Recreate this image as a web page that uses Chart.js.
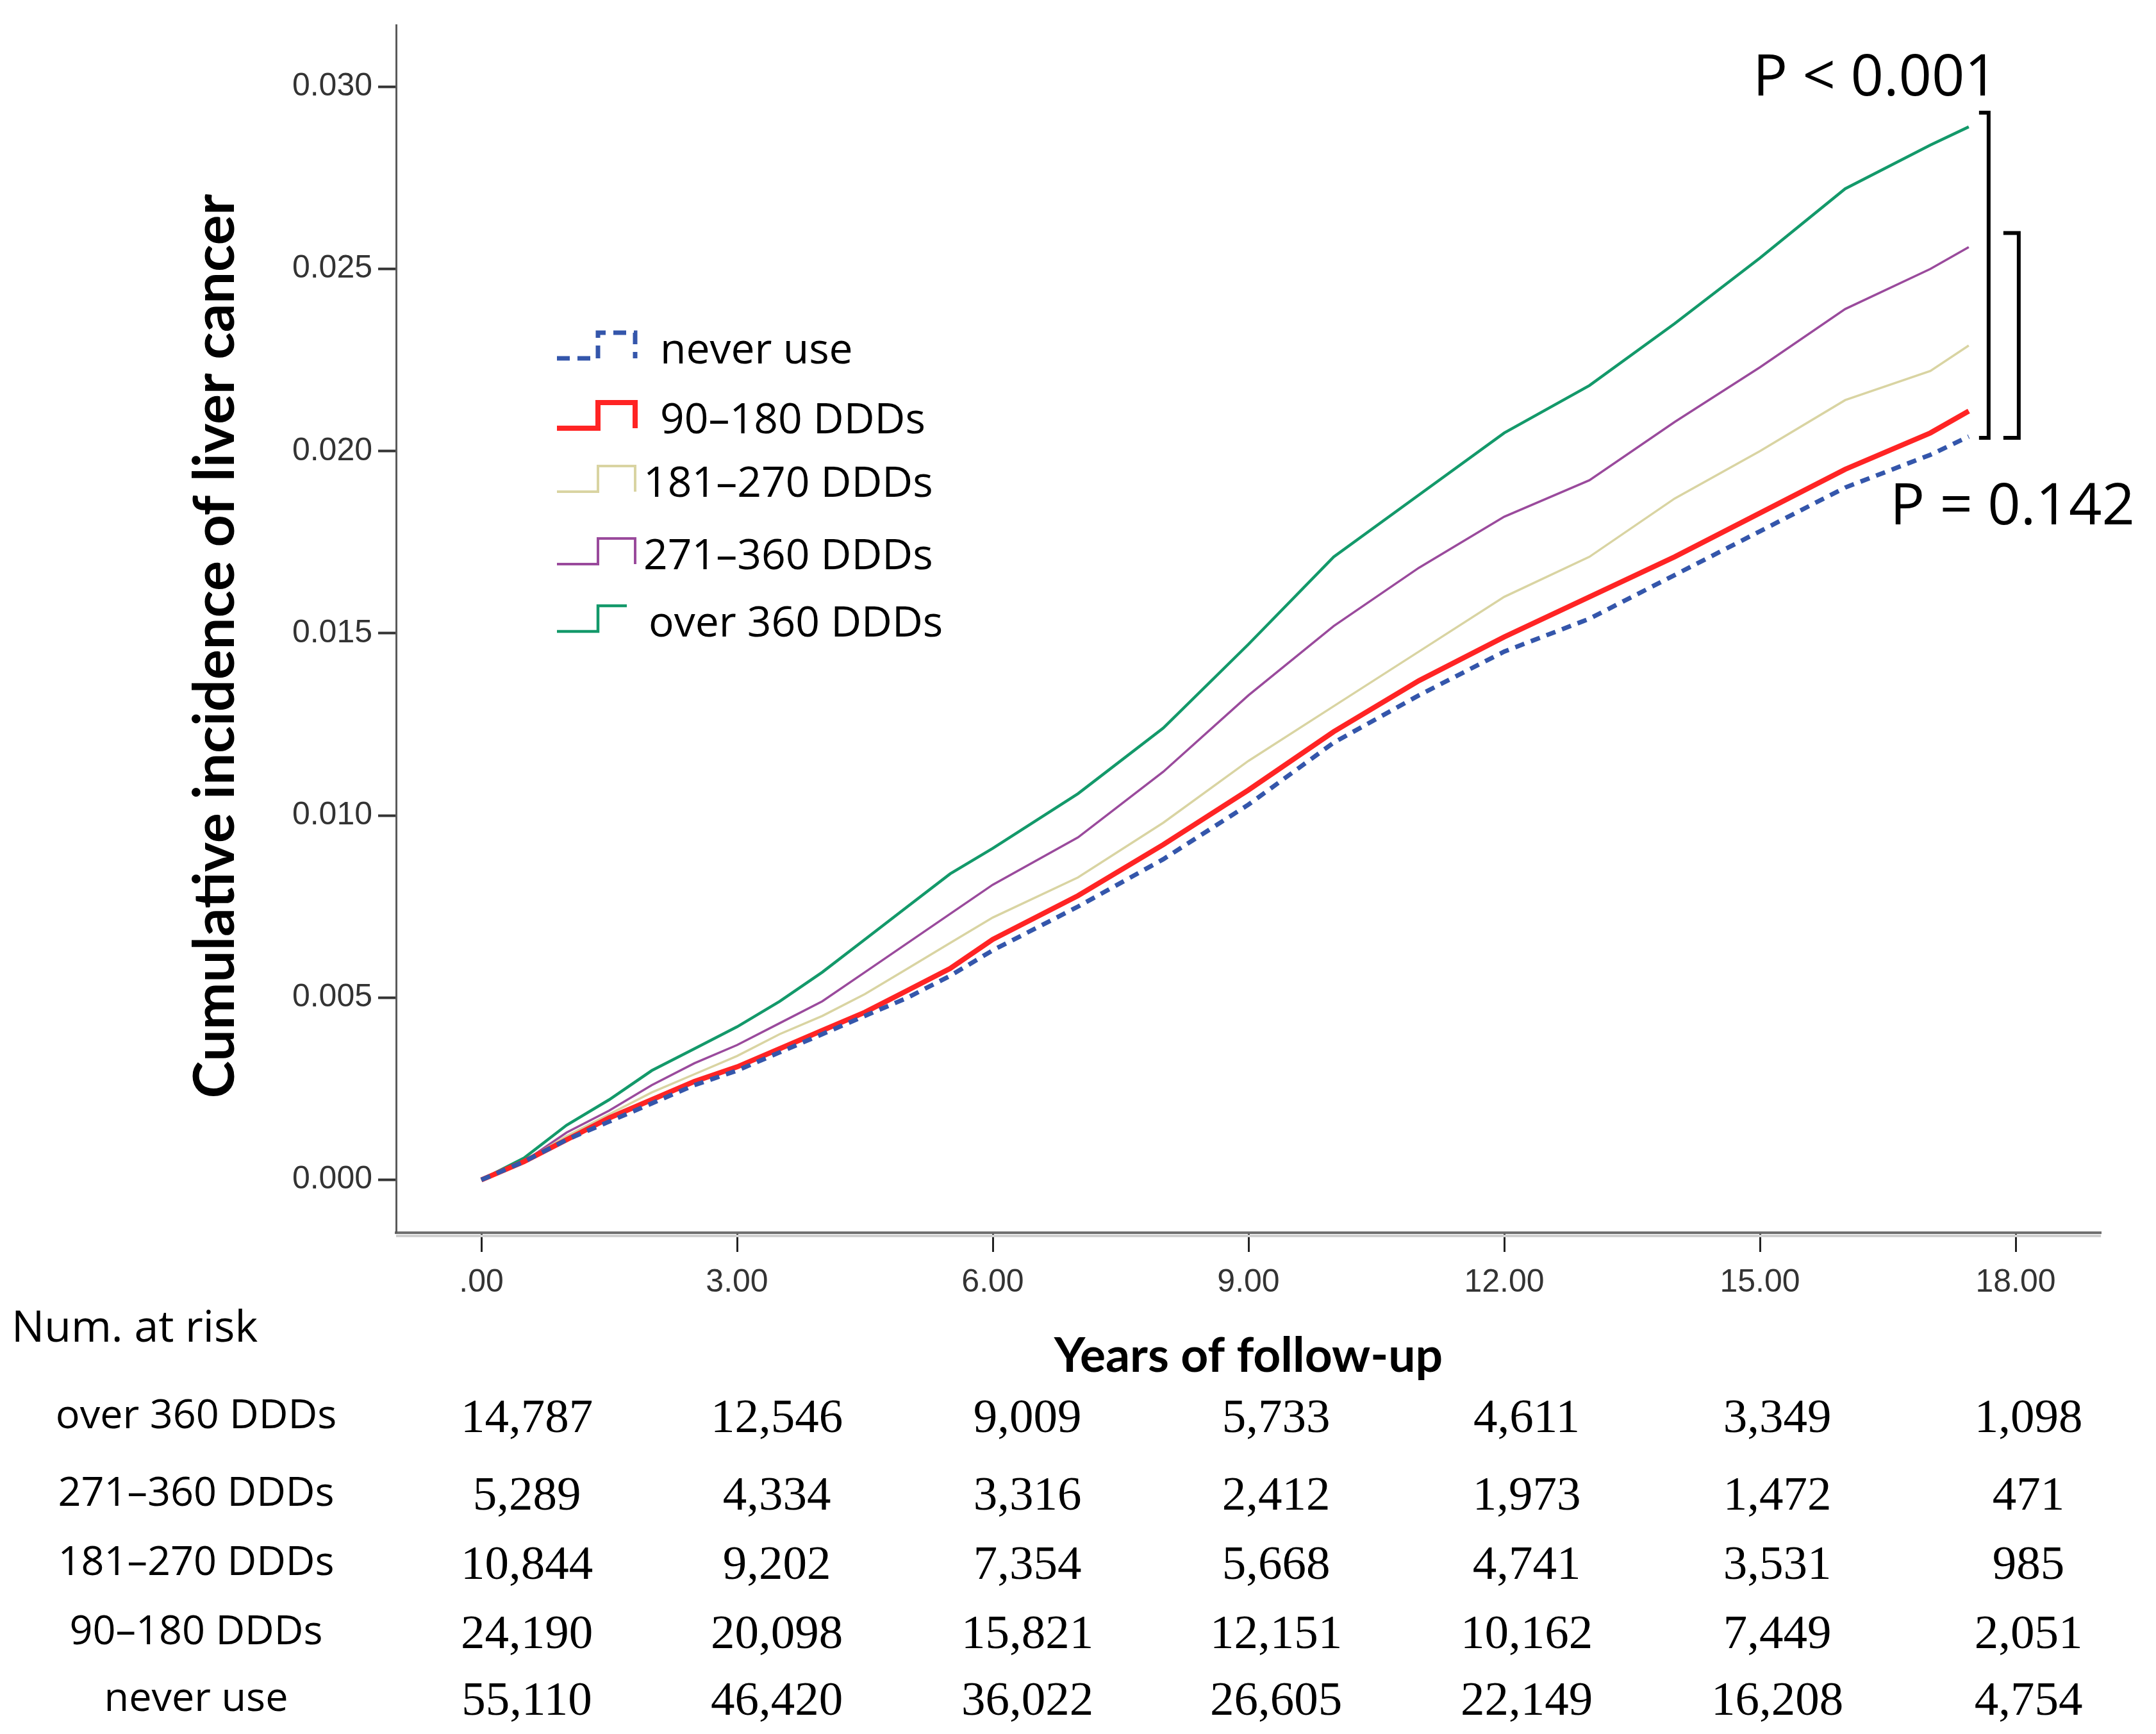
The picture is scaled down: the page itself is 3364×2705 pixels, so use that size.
<!DOCTYPE html>
<html>
<head>
<meta charset="utf-8">
<script src="https://cdn.jsdelivr.net/npm/chart.js@4.4.0/dist/chart.umd.min.js"></script>
<style>
  html, body { margin: 0; padding: 0; background: #fff; }
  canvas { display: block; }
</style>
</head>
<body>
<canvas id="kmChart" width="3364" height="2705" style="width:3364px;height:2705px"></canvas>
<script>
// follow-up time (years) where the curves were read
const years = [0, 0.5, 1, 1.5, 2, 2.5, 3, 3.5, 4, 4.5, 5, 5.5, 6, 7, 8, 9, 10, 11, 12, 13, 14, 15, 16, 17, 17.45];

// cumulative incidence of liver cancer per group
const neverUse  = [0, 0.0005, 0.0011, 0.0016, 0.0021, 0.0026, 0.0030, 0.0035, 0.0040, 0.0045, 0.0050, 0.0056, 0.0063, 0.0075, 0.0088, 0.0103, 0.0120, 0.0133, 0.0145, 0.0154, 0.0166, 0.0178, 0.0190, 0.0199, 0.0204];
const ddd90to180  = [0, 0.0005, 0.0011, 0.0017, 0.0022, 0.0027, 0.0031, 0.0036, 0.0041, 0.0046, 0.0052, 0.0058, 0.0066, 0.0078, 0.0092, 0.0107, 0.0123, 0.0137, 0.0149, 0.0160, 0.0171, 0.0183, 0.0195, 0.0205, 0.0211];
const ddd181to270 = [0, 0.0005, 0.0012, 0.0018, 0.0024, 0.0029, 0.0034, 0.0040, 0.0045, 0.0051, 0.0058, 0.0065, 0.0072, 0.0083, 0.0098, 0.0115, 0.0130, 0.0145, 0.0160, 0.0171, 0.0187, 0.0200, 0.0214, 0.0222, 0.0229];
const ddd271to360 = [0, 0.0005, 0.0013, 0.0019, 0.0026, 0.0032, 0.0037, 0.0043, 0.0049, 0.0057, 0.0065, 0.0073, 0.0081, 0.0094, 0.0112, 0.0133, 0.0152, 0.0168, 0.0182, 0.0192, 0.0208, 0.0223, 0.0239, 0.0250, 0.0256];
const dddOver360  = [0, 0.0006, 0.0015, 0.0022, 0.0030, 0.0036, 0.0042, 0.0049, 0.0057, 0.0066, 0.0075, 0.0084, 0.0091, 0.0106, 0.0124, 0.0147, 0.0171, 0.0188, 0.0205, 0.0218, 0.0235, 0.0253, 0.0272, 0.0284, 0.0289];

const groupNames = ['never use', '90\u2013180 DDDs', '181\u2013270 DDDs', '271\u2013360 DDDs', 'over 360 DDDs'];

const xTicks = [0, 3, 6, 9, 12, 15, 18];
const xTickLabels = ['.00', '3.00', '6.00', '9.00', '12.00', '15.00', '18.00'];
const yTicks = [0, 0.005, 0.010, 0.015, 0.020, 0.025, 0.030];
const yTickLabels = ['0.000', '0.005', '0.010', '0.015', '0.020', '0.025', '0.030'];

// number at risk table (rows top to bottom as printed)
const riskRowNames = ['over 360 DDDs', '271\u2013360 DDDs', '181\u2013270 DDDs', '90\u2013180 DDDs', 'never use'];
const riskOver360  = [14787, 12546, 9009, 5733, 4611, 3349, 1098];
const risk271to360 = [5289, 4334, 3316, 2412, 1973, 1472, 471];
const risk181to270 = [10844, 9202, 7354, 5668, 4741, 3531, 985];
const risk90to180  = [24190, 20098, 15821, 12151, 10162, 7449, 2051];
const riskNeverUse = [55110, 46420, 36022, 26605, 22149, 16208, 4754];

const pAll = 'P < 0.001';
const pLow = 'P = 0.142';

const seriesStyle = [
  { color: '#3456ab', width: 7, dash: [15, 11] },
  { color: '#ff2424', width: 8, dash: [] },
  { color: '#d9d4a2', width: 3.5, dash: [] },
  { color: '#9a4a9c', width: 3.5, dash: [] },
  { color: '#13996a', width: 4.5, dash: [] }
];
const seriesValues = [neverUse, ddd90to180, ddd181to270, ddd271to360, dddOver360];

const datasets = seriesValues.map((vals, i) => ({
  label: groupNames[i],
  data: vals.map((v, k) => ({ x: years[k], y: v })),
  borderColor: seriesStyle[i].color,
  borderWidth: seriesStyle[i].width,
  borderDash: seriesStyle[i].dash,
  pointRadius: 0,
  tension: 0,
  fill: false
}));

function bracket(ctx, x, top, bottom, serif) {
  ctx.beginPath();
  ctx.moveTo(x - serif, top);
  ctx.lineTo(x, top);
  ctx.lineTo(x, bottom);
  ctx.lineTo(x - serif, bottom);
  ctx.stroke();
}

const extras = {
  id: 'extras',
  afterDraw(chart) {
    const ctx = chart.ctx;
    const xs = chart.scales.x;
    const ys = chart.scales.y;
    const area = chart.chartArea;
    ctx.save();

    // light shadow under the x axis line
    ctx.strokeStyle = '#cfcfcf';
    ctx.lineWidth = 4;
    ctx.beginPath();
    ctx.moveTo(area.left, area.bottom + 5);
    ctx.lineTo(area.right, area.bottom + 5);
    ctx.stroke();

    // axis titles
    ctx.fillStyle = '#000';
    ctx.textAlign = 'center';
    ctx.textBaseline = 'middle';
    ctx.save();
    ctx.translate(337, 1008);
    ctx.rotate(-Math.PI / 2);
    ctx.font = 'bold 88px Lato';
    ctx.fillText('Cumulative incidence of liver cancer', 0, 0);
    ctx.restore();
    ctx.font = 'bold 75px Lato';
    ctx.fillText('Years of follow-up', (area.left + area.right) / 2, 2116);

    // legend with step icons
    const legendY = [548, 657, 756, 869, 974];
    const legendTextX = [1030, 1030, 1004, 1004, 1012];
    ctx.font = '66px "Open Sans"';
    ctx.textAlign = 'left';
    groupNames.forEach((name, i) => {
      const cy = legendY[i];
      const st = seriesStyle[i];
      ctx.strokeStyle = st.color;
      ctx.lineWidth = Math.max(st.width, 4);
      ctx.setLineDash(i === 0 ? [20, 12] : []);
      ctx.beginPath();
      ctx.moveTo(869, cy + 11);
      ctx.lineTo(933, cy + 11);
      ctx.lineTo(933, cy - 29);
      if (i === 4) {
        ctx.lineTo(978, cy - 29);
      } else {
        ctx.lineTo(991, cy - 29);
        ctx.lineTo(991, cy + 11);
      }
      ctx.stroke();
      ctx.setLineDash([]);
      ctx.fillStyle = '#000';
      ctx.fillText(name, legendTextX[i], cy);
    });

    // p values and brackets
    const xEnd = xs.getPixelForValue(years[years.length - 1]);
    const last = a => a[a.length - 1];
    ctx.strokeStyle = '#000';
    ctx.lineWidth = 6;
    bracket(ctx, xEnd + 31, ys.getPixelForValue(last(dddOver360)) - 22, ys.getPixelForValue(last(neverUse)) + 2, 15);
    bracket(ctx, xEnd + 78, ys.getPixelForValue(last(ddd271to360)) - 22, ys.getPixelForValue(last(neverUse)) + 2, 24);
    ctx.fillStyle = '#000';
    ctx.font = '90px "Open Sans"';
    ctx.textBaseline = 'alphabetic';
    ctx.textAlign = 'center';
    ctx.fillText(pAll, 2926, 149);
    ctx.textAlign = 'left';
    ctx.fillText(pLow, 2949, 818);

    // number at risk table
    ctx.font = '68px "Open Sans"';
    ctx.textBaseline = 'middle';
    ctx.fillText('Num. at risk', 18, 2074);
    const rowY = [2210, 2331, 2439, 2547, 2651];
    const rows = [riskOver360, risk271to360, risk181to270, risk90to180, riskNeverUse];
    const colX = [822, 1212, 1603, 1991, 2382, 2773, 3165];
    rows.forEach((vals, r) => {
      ctx.font = '63px "Open Sans"';
      ctx.textAlign = 'center';
      ctx.fillText(riskRowNames[r], 306, rowY[r]);
      ctx.font = '75px "Liberation Serif"';
      vals.forEach((v, c) => {
        ctx.fillText(v.toLocaleString('en-US'), colX[c], rowY[r] + 4);
      });
    });
    ctx.restore();
  }
};

new Chart(document.getElementById('kmChart'), {
  type: 'line',
  data: { datasets: datasets },
  options: {
    responsive: false,
    animation: false,
    devicePixelRatio: 1,
    layout: { padding: { left: 0, right: 86, top: 26, bottom: 0 } },
    plugins: { legend: { display: false }, tooltip: { enabled: false } },
    scales: {
      x: {
        type: 'linear',
        min: -1,
        max: 19,
        afterFit: scale => { scale.height = 2705 - 1923; },
        afterBuildTicks: scale => { scale.ticks = xTicks.map(v => ({ value: v })); },
        border: { color: '#6f6f6f', width: 4 },
        grid: { drawOnChartArea: false, tickLength: 30, tickWidth: 3, tickColor: '#222' },
        ticks: {
          padding: 18,
          color: '#333',
          font: { family: 'Liberation Sans', size: 50 },
          maxRotation: 0,
          callback: value => xTickLabels[xTicks.indexOf(value)]
        }
      },
      y: {
        type: 'linear',
        min: -0.00145,
        max: 0.031695,
        afterFit: scale => { scale.width = 618; },
        afterBuildTicks: scale => { scale.ticks = yTicks.map(v => ({ value: v })); },
        border: { color: '#5a5a5a', width: 3 },
        grid: { drawOnChartArea: false, tickLength: 28, tickWidth: 4, tickColor: '#333' },
        ticks: {
          padding: 9,
          color: '#333',
          font: { family: 'Liberation Sans', size: 50 },
          callback: value => yTickLabels[yTicks.indexOf(value)]
        }
      }
    }
  },
  plugins: [extras]
});
</script>
</body>
</html>
